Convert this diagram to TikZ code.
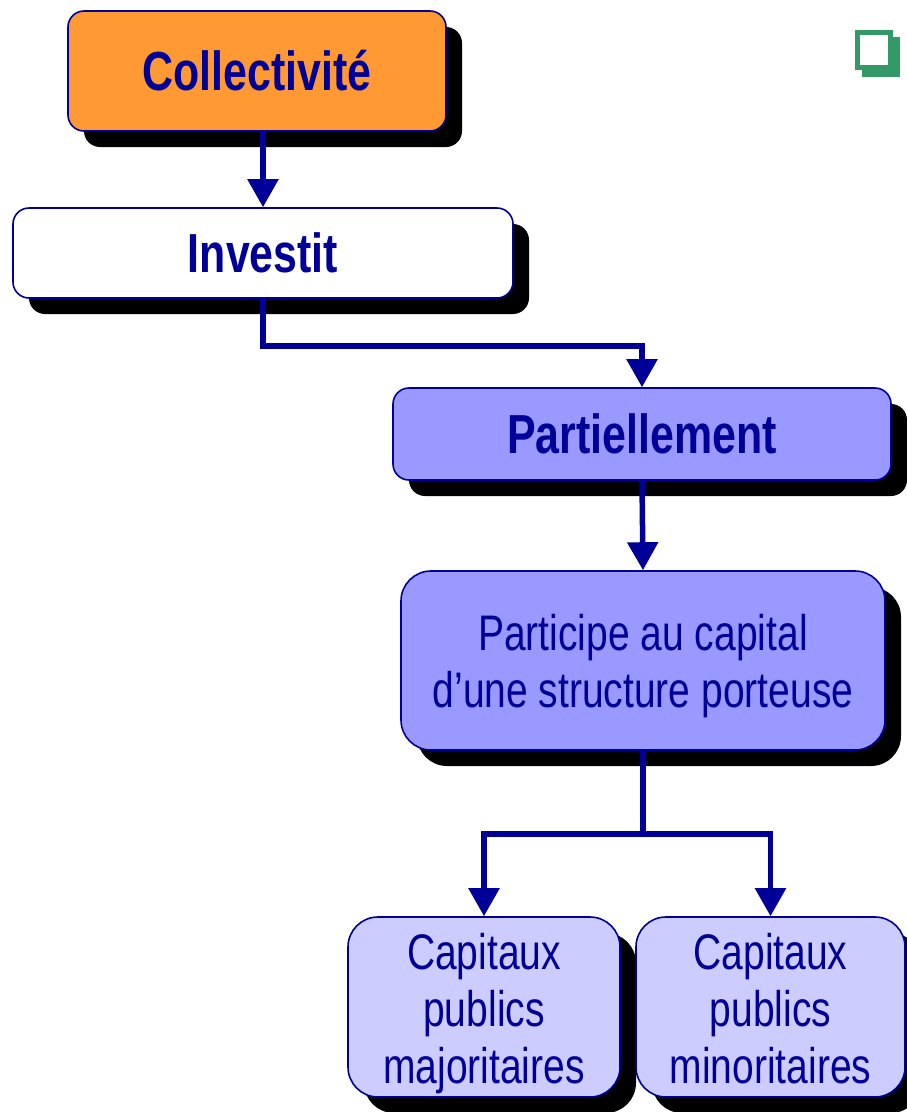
\documentclass[tikz,border=0pt]{standalone}
\usepackage{fontspec}
\setmainfont{Liberation Sans}[FakeStretch=0.78]
\usetikzlibrary{arrows.meta,shadows,positioning}
\definecolor{dblue}{HTML}{000099}
\definecolor{orangef}{HTML}{FF9933}
\definecolor{lilac}{HTML}{9999FF}
\definecolor{palelilac}{HTML}{CCCCFF}
\definecolor{icongreen}{HTML}{339966}
\newcommand{\topstrut}[1]{\rule{0pt}{#1}}
\newcommand{\botstrut}[1]{\rule[-#1]{0pt}{#1}}
\tikzset{
  boxbase/.style={draw=dblue, line width=1.6pt, text=dblue, inner sep=0pt,
    drop shadow={shadow xshift=16pt, shadow yshift=-16pt, fill=black, opacity=1}},
  boldbox/.style={boxbase, rounded corners=16pt, font=\fontsize{55}{60}\selectfont\bfseries},
  regbox/.style={boxbase, rounded corners=30pt, align=center, font=\fontsize{50}{57}\selectfont},
  arr/.style={draw=dblue, line width=5.5pt, -{Triangle[width=30pt,length=28pt]}},
  plainline/.style={draw=dblue, line width=5.5pt}
}
\begin{document}
\begin{tikzpicture}[x=1pt,y=-1pt]
\useasboundingbox (0,0) rectangle (906,1112);
% icon
\fill[icongreen] (862,37) rectangle (900,77);
\fill[icongreen] (855,30) rectangle (893,70);
\fill[white] (860,35) rectangle (888,65);
% nodes
\node[boldbox, fill=orangef, minimum width=378pt, minimum height=120pt] (col) at (257,71) {Collectivité};
\node[boldbox, fill=white, minimum width=500pt, minimum height=90pt] (inv) at (263,253) {Investit};
\node[boldbox, fill=lilac, minimum width=498pt, minimum height=92pt] (part) at (642,434) {Partiellement};
\node[regbox, fill=lilac, minimum width=484pt, minimum height=179pt] (pc) at (643,660.5) {\topstrut{54pt}Participe au capital\\d’une structure porteuse\strut};
\node[regbox, fill=palelilac, minimum width=272pt, minimum height=180pt] (maj) at (484,1007) {\topstrut{51pt}Capitaux\\publics\\majoritaires\botstrut{13pt}};
\node[regbox, fill=palelilac, minimum width=269pt, minimum height=180pt] (min) at (770.5,1007) {\topstrut{51pt}Capitaux\\publics\\minoritaires\botstrut{13pt}};
% connectors
\draw[arr] (col.south -| inv.north) -- (inv.north);
\draw[arr] (inv.south) -- ++(0,47) -| (part.north);
\draw[arr] (part.south) -- (pc.north);
\draw[plainline] (pc.south) -- ++(0,83) coordinate (split);
\draw[arr] (split) -| (maj.north);
\draw[arr] (split) -| (min.north);
\end{tikzpicture}
\end{document}
